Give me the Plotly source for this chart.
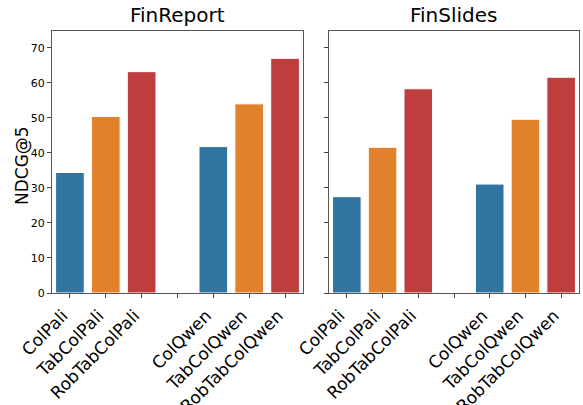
import plotly.graph_objects as go
from plotly.subplots import make_subplots

categories = ["ColPali", "TabColPali", "RobTabColPali", " ", "ColQwen", "TabColQwen", "RobTabColQwen"]
finreport = [34.4, 50.4, 63.2, None, 41.8, 54.0, 67.0]
finslides = [27.5, 41.6, 58.3, None, 31.1, 49.6, 61.6]
bar_colors = ["#3274A1", "#E1812C", "#C03D3E", "#FFFFFF", "#3274A1", "#E1812C", "#C03D3E"]
titles = ["FinReport", "FinSlides"]
y_ticks = [0, 10, 20, 30, 40, 50, 60, 70]

W, H = 583, 405
fig = make_subplots(rows=1, cols=2, shared_yaxes=True)

for i, vals in enumerate([finreport, finslides]):
    fig.add_trace(go.Bar(x=categories, y=vals, marker=dict(color=bar_colors, line=dict(color="white", width=1)),
                         width=0.8, showlegend=False), row=1, col=i + 1)

font = "DejaVu Sans"
xd = [[52 / W, 303 / W], [329 / W, 579 / W]]
yd = [1 - 293 / H, 1 - 31 / H]
common_x = dict(type="category", categoryorder="array", categoryarray=categories, range=[-0.5, 6.5],
                tickangle=-45, tickfont=dict(family=font, size=17, color="black"), automargin=False,
                ticklabelshift=-7, ticklabelstandoff=1,
                ticks="outside", ticklen=4, tickcolor="#444", showline=True, linecolor="#555", linewidth=1,
                mirror=True, showgrid=False, zeroline=False)
fig.update_xaxes(**common_x)
fig.update_layout(xaxis=dict(domain=xd[0]), xaxis2=dict(domain=xd[1]))
common_y = dict(range=[0, 74.8], tickvals=y_ticks, ticks="outside", ticklen=4, tickcolor="#444",
                showline=True, linecolor="#555", linewidth=1, mirror=True, showgrid=False, zeroline=False,
                domain=yd, automargin=False, tickfont=dict(family=font, size=11, color="black"))
fig.update_yaxes(**common_y)
fig.update_layout(yaxis2=dict(showticklabels=False))

for i, t in enumerate(titles):
    fig.add_annotation(text=t, x=(xd[i][0] + xd[i][1]) / 2, y=1 - 31 / H, xref="paper", yref="paper",
                       xanchor="center", yanchor="bottom", yshift=2, showarrow=False,
                       font=dict(family=font, size=20, color="black"))
fig.add_annotation(text="NDCG@5", x=22 / W, y=1 - 166 / H, xref="paper", yref="paper", textangle=-90,
                   xanchor="center", yanchor="middle", showarrow=False,
                   font=dict(family=font, size=17, color="black"))

fig.update_layout(width=W, height=H, margin=dict(l=0, r=0, t=0, b=0), plot_bgcolor="white",
                  paper_bgcolor="white", bargap=0.2)
fig.write_html("out.html")
